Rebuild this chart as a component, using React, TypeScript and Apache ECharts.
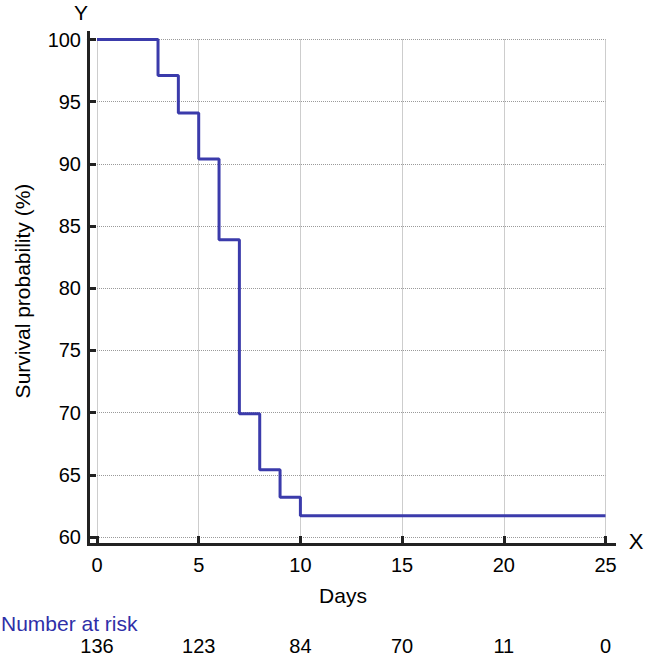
import React, { useEffect, useRef } from "react";
import * as echarts from "echarts";

const stepDays = [0, 3, 4, 5, 6, 7, 8, 9, 10, 25];
const survival = [100, 97.1, 94.1, 90.4, 83.9, 69.9, 65.4, 63.2, 61.7, 61.7];
const riskDays = [0, 5, 10, 15, 20, 25];
const riskCounts = [136, 123, 84, 70, 11, 0];
const yTicks = [60, 65, 70, 75, 80, 85, 90, 95, 100];
const xTicks = [0, 5, 10, 15, 20, 25];

const FONT = "'Liberation Sans', Arial, Helvetica, sans-serif";
const AXIS_COLOR = "#222222";

export default function App() {
  const ref = useRef<HTMLDivElement>(null);
  useEffect(() => {
    if (!ref.current) return;
    const chart = echarts.init(ref.current, undefined, { renderer: "svg" });
    const riskMap: Record<number, number> = {};
    riskDays.forEach((d, i) => (riskMap[d] = riskCounts[i]));
    const gridLeft = 97;
    const gridTop = 39.5;
    const gridRight = 645 - 605.5;
    const gridBottom = 656 - 537;
    chart.setOption({
      animation: false,
      backgroundColor: "#ffffff",
      grid: { left: gridLeft, right: gridRight, top: gridTop, bottom: gridBottom },
      xAxis: [
        {
          type: "value",
          min: xTicks[0],
          max: xTicks[xTicks.length - 1],
          interval: 5,
          offset: 7,
          axisLine: { show: true, onZero: false, lineStyle: { color: AXIS_COLOR, width: 3 } },
          axisTick: { show: true, inside: true, length: 8, lineStyle: { color: AXIS_COLOR, width: 3 } },
          axisLabel: { margin: 11, fontSize: 20, color: "#000", fontFamily: FONT },
          splitLine: { show: true, lineStyle: { type: "dotted", color: "#9a9a9a", width: 1 } },
        },
        {
          type: "value",
          min: riskDays[0],
          max: riskDays[riskDays.length - 1],
          interval: 5,
          position: "bottom",
          offset: 92,
          axisLine: { show: false },
          axisTick: { show: false },
          splitLine: { show: false },
          axisLabel: {
            margin: 7,
            fontSize: 20,
            color: "#000",
            fontFamily: FONT,
            formatter: (v: number) => (riskMap[v] !== undefined ? String(riskMap[v]) : ""),
          },
        },
      ],
      yAxis: {
        type: "value",
        min: yTicks[0],
        max: yTicks[yTicks.length - 1],
        interval: 5,
        offset: 9,
        axisLine: { show: true, onZero: false, lineStyle: { color: AXIS_COLOR, width: 3 } },
        axisTick: { show: true, inside: true, length: 8, lineStyle: { color: AXIS_COLOR, width: 3 } },
        axisLabel: { margin: 7, fontSize: 20, color: "#000", fontFamily: FONT },
        splitLine: { show: true, lineStyle: { type: "dotted", color: "#9a9a9a", width: 1 } },
      },
      series: [
        {
          type: "line",
          step: "end",
          xAxisIndex: 0,
          data: stepDays.map((d, i) => [d, survival[i]]),
          symbol: "none",
          lineStyle: { color: "#3b3bab", width: 3 },
        },
      ],
      graphic: [
        { type: "line", shape: { x1: 88.5, y1: 31, x2: 88.5, y2: 545.5 }, style: { stroke: AXIS_COLOR, lineWidth: 3 } },
        { type: "line", shape: { x1: 87, y1: 544.5, x2: 616, y2: 544.5 }, style: { stroke: AXIS_COLOR, lineWidth: 3 } },
        { type: "text", x: 81, y: 12, style: { text: "Y", fill: "#000", font: `21px ${FONT}`, align: "center", verticalAlign: "middle" } },
        { type: "text", x: 636, y: 541, style: { text: "X", fill: "#000", font: `22px ${FONT}`, align: "center", verticalAlign: "middle" } },
        { type: "text", x: 343, y: 595, style: { text: "Days", fill: "#000", font: `21px ${FONT}`, align: "center", verticalAlign: "middle" } },
        {
          type: "text",
          x: 22,
          y: 291,
          rotation: Math.PI / 2,
          style: { text: "Survival probability (%)", fill: "#000", font: `21px ${FONT}`, align: "center", verticalAlign: "middle" },
        },
        { type: "text", x: 1, y: 623, style: { text: "Number at risk", fill: "#2f2fa8", font: `21px ${FONT}`, align: "left", verticalAlign: "middle" } },
      ],
    });
    return () => chart.dispose();
  }, []);
  return <div ref={ref} style={{ position: "fixed", left: 0, top: 0, width: 645, height: 656 }} />;
}
